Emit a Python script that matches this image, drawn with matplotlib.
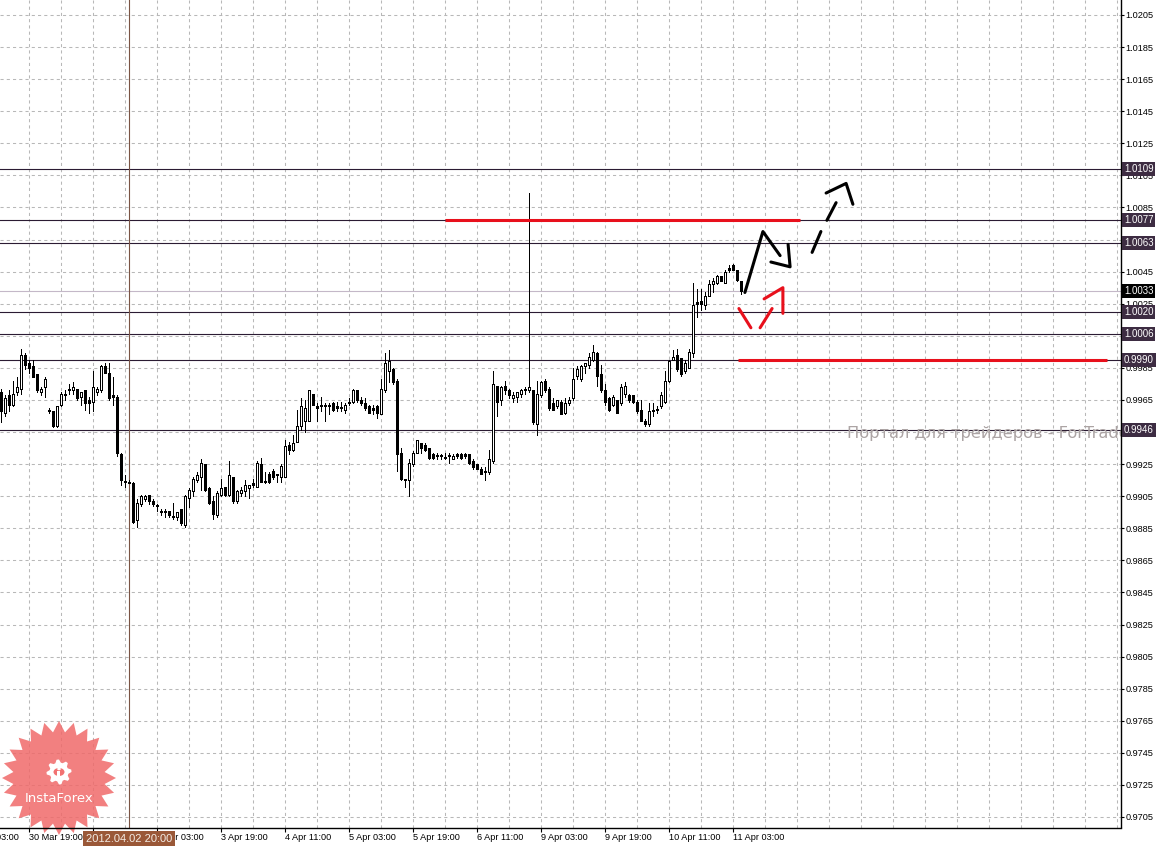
import numpy as np
import matplotlib.pyplot as plt
from matplotlib.patches import Polygon, Rectangle, Circle

plt.rcParams['font.family'] = ['Liberation Sans', 'DejaVu Sans']

W, H = 1162, 846

# H1 candles, bar 0 = 30 Mar 12:00 ... bar 185 = 11 Apr 05:00
opens = [0.9970, 0.9957, 0.9968, 0.9962, 0.9970, 0.9972, 0.9993, 0.9988, 0.9986, 0.9981,
         0.9970, 0.9973, 0.9958, 0.9958, 0.9949, 0.9962, 0.9968, 0.9971, 0.9971, 0.9972,
         0.9967, 0.9971, 0.9965, 0.9964, 0.9970, 0.9971, 0.9986, 0.9982, 0.9968, 0.9967,
         0.9931, 0.9914, 0.9914, 0.9913, 0.9890, 0.9900, 0.9903, 0.9906, 0.9902, 0.9899,
         0.9896, 0.9895, 0.9896, 0.9892, 0.9892, 0.9897, 0.9887, 0.9904, 0.9908, 0.9915,
         0.9917, 0.9925, 0.9910, 0.9902, 0.9893, 0.9906, 0.9911, 0.9906, 0.9917, 0.9902,
         0.9907, 0.9908, 0.9910, 0.9912, 0.9911, 0.9925, 0.9914, 0.9919, 0.9921, 0.9918,
         0.9917, 0.9917, 0.9937, 0.9934, 0.9939, 0.9949, 0.9952, 0.9952, 0.9969, 0.9961,
         0.9961, 0.9961, 0.9961, 0.9963, 0.9960, 0.9960, 0.9959, 0.9963, 0.9964, 0.9971,
         0.9965, 0.9963, 0.9961, 0.9960, 0.9961, 0.9956, 0.9971, 0.9983, 0.9984, 0.9977,
         0.9932, 0.9915, 0.9915, 0.9925, 0.9932, 0.9938, 0.9937, 0.9935, 0.9931, 0.9930,
         0.9930, 0.9929, 0.9930, 0.9928, 0.9931, 0.9931, 0.9931, 0.9931, 0.9927, 0.9925,
         0.9922, 0.9920, 0.9920, 0.9927, 0.9974, 0.9965, 0.9974, 0.9971, 0.9966, 0.9967,
         0.9969, 0.9971, 0.9971, 0.9971, 0.9950, 0.9968, 0.9977, 0.9972, 0.9963, 0.9961,
         0.9964, 0.9957, 0.9963, 0.9966, 0.9980, 0.9978, 0.9986, 0.9987, 0.9990, 0.9994,
         0.9981, 0.9971, 0.9966, 0.9962, 0.9965, 0.9963, 0.9969, 0.9968, 0.9968, 0.9964,
         0.9959, 0.9952, 0.9950, 0.9959, 0.9959, 0.9961, 0.9964, 0.9977, 0.9990, 0.9993,
         0.9991, 0.9983, 0.9985, 0.9994, 1.0026, 1.0027, 1.0024, 1.0030, 1.0037, 1.0038,
         1.0042, 1.0038, 1.0046, 1.0049, 1.0046, 1.0039]
highs = [0.9972, 0.9968, 0.9971, 0.9977, 0.9979, 0.9997, 0.9994, 0.9990, 0.9990, 0.9981,
         0.9973, 0.9979, 0.9960, 0.9958, 0.9961, 0.9970, 0.9971, 0.9975, 0.9976, 0.9972,
         0.9970, 0.9971, 0.9967, 0.9983, 0.9973, 0.9987, 0.9988, 0.9988, 0.9979, 0.9968,
         0.9932, 0.9918, 0.9915, 0.9914, 0.9903, 0.9906, 0.9906, 0.9906, 0.9903, 0.9900,
         0.9897, 0.9897, 0.9896, 0.9901, 0.9895, 0.9897, 0.9906, 0.9910, 0.9917, 0.9920,
         0.9928, 0.9925, 0.9911, 0.9905, 0.9908, 0.9916, 0.9911, 0.9927, 0.9917, 0.9909,
         0.9911, 0.9915, 0.9912, 0.9916, 0.9927, 0.9929, 0.9920, 0.9920, 0.9922, 0.9919,
         0.9925, 0.9940, 0.9939, 0.9943, 0.9959, 0.9966, 0.9965, 0.9971, 0.9969, 0.9963,
         0.9967, 0.9963, 0.9963, 0.9964, 0.9964, 0.9964, 0.9963, 0.9966, 0.9972, 0.9971,
         0.9967, 0.9966, 0.9962, 0.9962, 0.9962, 0.9978, 0.9994, 0.9996, 0.9985, 0.9978,
         0.9935, 0.9916, 0.9928, 0.9933, 0.9940, 0.9938, 0.9938, 0.9935, 0.9932, 0.9932,
         0.9931, 0.9932, 0.9932, 0.9931, 0.9932, 0.9932, 0.9932, 0.9931, 0.9928, 0.9925,
         0.9923, 0.9923, 0.9934, 0.9983, 0.9974, 0.9974, 0.9977, 0.9972, 0.9970, 0.9970,
         0.9972, 0.9973, 1.0094, 0.9971, 0.9977, 0.9977, 0.9978, 0.9973, 0.9966, 0.9965,
         0.9965, 0.9966, 0.9967, 0.9985, 0.9986, 0.9987, 0.9988, 0.9994, 0.9999, 0.9995,
         0.9987, 0.9975, 0.9967, 0.9968, 0.9965, 0.9975, 0.9976, 0.9969, 0.9968, 0.9965,
         0.9965, 0.9953, 0.9963, 0.9963, 0.9961, 0.9970, 0.9983, 0.9990, 0.9996, 0.9997,
         0.9991, 0.9990, 0.9997, 1.0038, 1.0034, 1.0034, 1.0032, 1.0040, 1.0041, 1.0043,
         1.0042, 1.0046, 1.0049, 1.0050, 1.0046, 1.0039]
lows = [0.9951, 0.9955, 0.9958, 0.9961, 0.9968, 0.9969, 0.9984, 0.9982, 0.9979, 0.9970,
        0.9968, 0.9967, 0.9957, 0.9948, 0.9948, 0.9961, 0.9965, 0.9969, 0.9969, 0.9965,
        0.9962, 0.9959, 0.9957, 0.9958, 0.9968, 0.9970, 0.9982, 0.9965, 0.9962, 0.9930,
        0.9912, 0.9911, 0.9913, 0.9888, 0.9886, 0.9899, 0.9902, 0.9900, 0.9899, 0.9896,
        0.9893, 0.9892, 0.9892, 0.9891, 0.9890, 0.9887, 0.9886, 0.9898, 0.9905, 0.9914,
        0.9909, 0.9908, 0.9900, 0.9891, 0.9892, 0.9905, 0.9905, 0.9905, 0.9901, 0.9901,
        0.9905, 0.9905, 0.9904, 0.9911, 0.9911, 0.9914, 0.9913, 0.9913, 0.9916, 0.9914,
        0.9914, 0.9917, 0.9931, 0.9933, 0.9939, 0.9946, 0.9945, 0.9952, 0.9962, 0.9952,
        0.9958, 0.9952, 0.9956, 0.9958, 0.9958, 0.9958, 0.9957, 0.9962, 0.9963, 0.9964,
        0.9962, 0.9959, 0.9957, 0.9956, 0.9954, 0.9956, 0.9970, 0.9976, 0.9975, 0.9921,
        0.9915, 0.9911, 0.9905, 0.9924, 0.9932, 0.9932, 0.9933, 0.9928, 0.9928, 0.9928,
        0.9928, 0.9928, 0.9926, 0.9928, 0.9929, 0.9928, 0.9929, 0.9925, 0.9922, 0.9922,
        0.9919, 0.9915, 0.9919, 0.9926, 0.9955, 0.9962, 0.9969, 0.9966, 0.9964, 0.9964,
        0.9967, 0.9969, 0.9970, 0.9950, 0.9943, 0.9967, 0.9970, 0.9959, 0.9959, 0.9960,
        0.9956, 0.9956, 0.9962, 0.9965, 0.9978, 0.9977, 0.9982, 0.9985, 0.9989, 0.9974,
        0.9970, 0.9962, 0.9958, 0.9961, 0.9957, 0.9962, 0.9967, 0.9964, 0.9963, 0.9957,
        0.9952, 0.9949, 0.9949, 0.9955, 0.9957, 0.9960, 0.9963, 0.9976, 0.9990, 0.9983,
        0.9980, 0.9982, 0.9985, 0.9992, 1.0017, 1.0021, 1.0022, 1.0030, 1.0032, 1.0037,
        1.0039, 1.0038, 1.0045, 1.0046, 1.0039, 1.0031]
closes = [0.9958, 0.9966, 0.9962, 0.9969, 0.9973, 0.9993, 0.9987, 0.9985, 0.9979, 0.9971,
          0.9972, 0.9978, 0.9958, 0.9949, 0.9961, 0.9969, 0.9969, 0.9971, 0.9973, 0.9966,
          0.9970, 0.9963, 0.9963, 0.9973, 0.9972, 0.9986, 0.9982, 0.9966, 0.9967, 0.9932,
          0.9915, 0.9914, 0.9913, 0.9889, 0.9901, 0.9905, 0.9905, 0.9902, 0.9900, 0.9899,
          0.9895, 0.9895, 0.9893, 0.9892, 0.9895, 0.9888, 0.9905, 0.9909, 0.9916, 0.9918,
          0.9926, 0.9909, 0.9901, 0.9894, 0.9907, 0.9910, 0.9906, 0.9918, 0.9902, 0.9908,
          0.9909, 0.9912, 0.9912, 0.9913, 0.9926, 0.9914, 0.9914, 0.9914, 0.9917, 0.9918,
          0.9924, 0.9936, 0.9934, 0.9938, 0.9949, 0.9961, 0.9960, 0.9971, 0.9962, 0.9960,
          0.9962, 0.9961, 0.9962, 0.9959, 0.9961, 0.9960, 0.9962, 0.9963, 0.9971, 0.9965,
          0.9963, 0.9960, 0.9957, 0.9959, 0.9957, 0.9972, 0.9988, 0.9989, 0.9976, 0.9931,
          0.9916, 0.9915, 0.9926, 0.9932, 0.9940, 0.9935, 0.9934, 0.9929, 0.9929, 0.9930,
          0.9930, 0.9929, 0.9930, 0.9930, 0.9930, 0.9929, 0.9930, 0.9926, 0.9923, 0.9922,
          0.9919, 0.9921, 0.9928, 0.9975, 0.9964, 0.9973, 0.9971, 0.9968, 0.9968, 0.9970,
          0.9971, 0.9971, 0.9973, 0.9951, 0.9969, 0.9976, 0.9971, 0.9960, 0.9959, 0.9965,
          0.9956, 0.9963, 0.9965, 0.9978, 0.9984, 0.9986, 0.9988, 0.9992, 0.9995, 0.9980,
          0.9971, 0.9964, 0.9959, 0.9967, 0.9957, 0.9973, 0.9974, 0.9965, 0.9964, 0.9958,
          0.9952, 0.9950, 0.9958, 0.9958, 0.9959, 0.9968, 0.9977, 0.9989, 0.9992, 0.9984,
          0.9981, 0.9988, 0.9995, 1.0024, 1.0025, 1.0025, 1.0030, 1.0037, 1.0039, 1.0042,
          1.0039, 1.0045, 1.0047, 1.0046, 1.0040, 1.0033]

time_ticks = list(range(7, 184, 16))
time_labels = ['30 Mar 19:00', '2 Apr 11:00', '3 Apr 03:00', '3 Apr 19:00', '4 Apr 11:00',
               '5 Apr 03:00', '5 Apr 19:00', '6 Apr 11:00', '9 Apr 03:00', '9 Apr 19:00',
               '10 Apr 11:00', '11 Apr 03:00']
first_label_bar = -9
first_label = '30 Mar 03:00'
price_ticks = np.round(np.arange(0.9705, 1.0206, 0.002), 4)

levels = [1.0109, 1.0077, 1.0063, 1.0020, 1.0006, 0.9990, 0.9946]
bid = 1.0033
crosshair_bar = 32
crosshair_label = '2012.04.02 20:00'

# hand drawn marks (bar index, price)
red_lines = [(110.9, 199.7, 1.0077), (184.2, 276.4, 0.9990)]
black_path_x = [185.9, 190.4, 194.7]
black_path_y = [1.0032, 1.0070, 1.0055]
black_head_x = [192.4, 197.2, 196.7]
black_head_y = [1.0051, 1.0048, 1.0062]
dash_x = [[202.7, 204.9], [206.4, 208.7]]
dash_y = [[1.0057, 1.0070], [1.0077, 1.0088]]
dash_head_x = [206.2, 211.2, 212.9]
dash_head_y = [1.0094, 1.0100, 1.0087]
red_v_x = [[184.4, 187.4], [189.7, 192.7]]
red_v_y = [[1.0022, 1.0010], [1.0010, 1.0022]]
red_head_x = [190.7, 195.4, 195.4]
red_head_y = [1.0028, 1.0035, 1.0019]

o = np.array(opens); h = np.array(highs); l = np.array(lows); c = np.array(closes)
idx = np.arange(len(o))

fig = plt.figure(figsize=(W / 100, H / 100), dpi=100)
ax = fig.add_axes([0, 18.5 / H, 1120.5 / W, 827.5 / H])
ax.set_xlim(-0.325, 279.8)
ax.set_ylim(0.969845, 1.021435)
one_px = (1.021435 - 0.969845) / 827.5   # price per pixel

# grid
ax.set_axisbelow(True)
ax.set_xticks(time_ticks)
ax.set_xticklabels(time_labels)
ax.set_xticks(np.arange(7, 280, 8), minor=True)
ax.set_yticks(price_ticks)
ax.set_yticklabels([f'{p:.4f}' for p in price_ticks])
gstyle = dict(color='#b8b8b8', linestyle=(0, (3, 3)), linewidth=0.75)
ax.grid(True, axis='x', which='both', **gstyle)
ax.grid(True, axis='y', which='major', **gstyle)

ax.yaxis.tick_right()
ax.tick_params(axis='y', length=2, width=0.8, pad=1.5, labelsize=6.6, direction='out')
ax.tick_params(axis='x', which='major', length=3, width=0.8, pad=1, labelsize=6.6, direction='out')
ax.tick_params(axis='x', which='minor', length=0)
for t in ax.get_xticklabels():
    t.set_horizontalalignment('left')
for s in ['left', 'top']:
    ax.spines[s].set_visible(False)
for s in ['right', 'bottom']:
    ax.spines[s].set_linewidth(1.0)

# partial first label at the left edge
ax.text(first_label_bar, -0.0068, first_label, transform=ax.get_xaxis_transform(),
        ha='left', va='top', fontsize=6.6, clip_on=False)

# level lines
for lv in levels:
    ax.axhline(lv, color='#2b1b33', lw=0.8, zorder=2)
    ax.text(1.003, lv, f'{lv:.4f}', transform=ax.get_yaxis_transform(), ha='left', va='center',
            fontsize=7, color='white', clip_on=False, zorder=6,
            bbox=dict(boxstyle='square,pad=0.2', fc='#3d2c42', ec='none'))
ax.axhline(bid, color='#c4b8c8', lw=0.8, zorder=2)
ax.text(1.003, bid, f'{bid:.4f}', transform=ax.get_yaxis_transform(), ha='left', va='center',
        fontsize=7, color='white', clip_on=False, zorder=6,
        bbox=dict(boxstyle='square,pad=0.2', fc='black', ec='none'))

# crosshair
ax.axvline(crosshair_bar, color='#7a5444', lw=0.8, zorder=2)

# watermark
ax.text(0.756, 0.4767, 'Портал для трейдеров - ForTrader.org', transform=ax.transAxes,
        fontsize=11.7, color='#aca4a4', ha='left', va='center', family='DejaVu Sans',
        clip_on=True, zorder=2.2)

# candles: 1px wicks, 3px bodies, white candles get a 1px hollow centre
body_lo = np.minimum(o, c)
body_hi = np.maximum(o, c)
body_hi = np.maximum(body_hi, body_lo + one_px)
ax.vlines(idx, l, h, color='black', linewidths=0.72, zorder=3, antialiased=False,
          capstyle='butt')
ax.vlines(idx, body_lo, body_hi, color='black', linewidths=2.16, zorder=4, antialiased=False,
          capstyle='butt')
hollow = (c > o) & ((c - o) > 2.2 * one_px)
ax.vlines(idx[hollow], body_lo[hollow] + one_px, body_hi[hollow] - one_px, color='white',
          linewidths=0.72, zorder=4.5, antialiased=False, capstyle='butt')

# drawn marks
for x0, x1, lv in red_lines:
    ax.plot([x0, x1], [lv, lv], color='#e8101c', lw=2.2, zorder=5, solid_capstyle='butt')
ax.plot(black_path_x, black_path_y, color='black', lw=2.2, zorder=5, solid_capstyle='round')
ax.plot(black_head_x, black_head_y, color='black', lw=2.2, zorder=5, solid_capstyle='round')
for xs, ys in zip(dash_x, dash_y):
    ax.plot(xs, ys, color='black', lw=2.2, zorder=5, solid_capstyle='round')
ax.plot(dash_head_x, dash_head_y, color='black', lw=2.2, zorder=5, solid_capstyle='round')
for xs, ys in zip(red_v_x, red_v_y):
    ax.plot(xs, ys, color='#e8101c', lw=2.2, zorder=5, solid_capstyle='round')
ax.plot(red_head_x, red_head_y, color='#e8101c', lw=2.2, zorder=5, solid_capstyle='round')


def px(x, y):
    return (x / W, 1 - y / H)


# crosshair time box
fig.patches.append(Rectangle(px(83, 846), 92 / W, 15 / H, transform=fig.transFigure,
                             fc='#9a5838', ec='none', zorder=10))
fig.text(129 / W, 1 - 838.5 / H, crosshair_label, ha='center', va='center', fontsize=8,
         color='#f4ece4', zorder=11)

# InstaForex logo
cx, cy = 59, 778
ang = np.linspace(0, 2 * np.pi, 49)[:-1] + np.pi / 2
rad = np.where(np.arange(48) % 2 == 0, 57, 46)
star = [px(cx + r * np.cos(a), cy - r * np.sin(a)) for r, a in zip(rad, ang)]
ax.add_patch(Polygon(star, closed=True, transform=fig.transFigure, fc='#f06a6a', ec='none',
                     alpha=0.85, clip_on=False, zorder=2.3))
gx, gy = 59, 772
gang = np.linspace(0, 2 * np.pi, 33)[:-1]
grad = np.where((np.arange(32) // 2) % 2 == 0, 12.5, 9.5)
gear = [px(gx + r * np.cos(a), gy - r * np.sin(a)) for r, a in zip(grad, gang)]
ax.add_patch(Polygon(gear, closed=True, transform=fig.transFigure, fc='white', ec='none',
                     clip_on=False, zorder=2.4))
ax.add_patch(Circle(px(gx, gy), 5.5 / W, transform=fig.transFigure, fc='#f27272', ec='none',
                    clip_on=False, zorder=2.45))
ax.add_patch(Circle(px(gx, gy - 3), 1.8 / W, transform=fig.transFigure, fc='white', ec='none',
                    clip_on=False, zorder=2.5))
ax.add_patch(Rectangle(px(gx - 1.5, gy + 8), 3 / W, 9 / H, transform=fig.transFigure,
                       fc='white', ec='none', clip_on=False, zorder=2.5))
fig.text(59 / W, 1 - 798 / H, 'InstaForex', ha='center', va='center', fontsize=9.5,
         color='white', family='DejaVu Sans', zorder=3)

fig.savefig('out.png', dpi=100, facecolor='white')
